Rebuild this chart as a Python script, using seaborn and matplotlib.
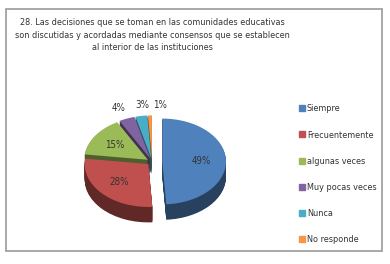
import matplotlib.pyplot as plt
import matplotlib.colors as mcolors
from matplotlib.patches import Rectangle
import numpy as np
import seaborn as sns

sns.set_style("white")
plt.rcParams['font.family'] = ['DejaVu Sans']
plt.rcParams['font.stretch'] = 'condensed'

categories = ["Siempre", "Frecuentemente", "algunas veces", "Muy pocas veces", "Nunca", "No responde"]
values = [49, 28, 15, 4, 3, 1]
colors = ["#4F81BD", "#C0504D", "#9BBB59", "#8064A2", "#4BACC6", "#F79646"]
title = ("28. Las decisiones que se toman en las comunidades educativas\n"
         "son discutidas y acordadas mediante consensos que se establecen\n"
         "al interior de las instituciones")

fig = plt.figure(figsize=(3.9, 2.64), dpi=100)
fig.patches.append(Rectangle((0.015, 0.05), 0.965, 0.915, transform=fig.transFigure,
                             fill=False, edgecolor="#999999", lw=1.2))
fig.text(0.39, 0.93, title, ha="center", va="top", fontsize=6.5, color="#333333", linespacing=1.45)

ax = fig.add_axes([0.145, 0.095, 0.49, 0.52])
explode = [0.16, 0.08, 0.08, 0.08, 0.08, 0.08]
dark = [tuple(c * 0.5 for c in mcolors.to_rgb(col)) for col in colors]
wp = {"edgecolor": "none", "linewidth": 0}

# extruded side for a 3D look
for dy in np.linspace(-0.36, -0.02, 20):
    ax.pie(values, colors=dark, explode=explode, startangle=90, counterclock=False,
           center=(0, dy), wedgeprops=wp)

wedges, texts, autotexts = ax.pie(values, colors=colors, explode=explode, startangle=90,
                                  counterclock=False, autopct="%d%%", pctdistance=0.62,
                                  wedgeprops=wp,
                                  textprops={"fontsize": 7, "color": "#333333"})
# small slices get their labels outside
autotexts[3].set_position((-0.52, 1.25))
autotexts[4].set_position((-0.15, 1.32))
autotexts[5].set_position((0.12, 1.32))

ax.set_aspect("auto")
ax.set_xlim(-1.5, 1.5)
ax.set_ylim(-1.8, 1.4)
ax.axis("off")

handles = [plt.Line2D([], [], marker="s", ls="", color=c, markersize=4) for c in colors]
fig.legend(handles, categories, loc="upper left", bbox_to_anchor=(0.745, 0.635), frameon=False,
           fontsize=6.5, labelspacing=1.9, handletextpad=0.1, handlelength=0.8,
           labelcolor="#333333")

fig.savefig("out.png", dpi=100)
